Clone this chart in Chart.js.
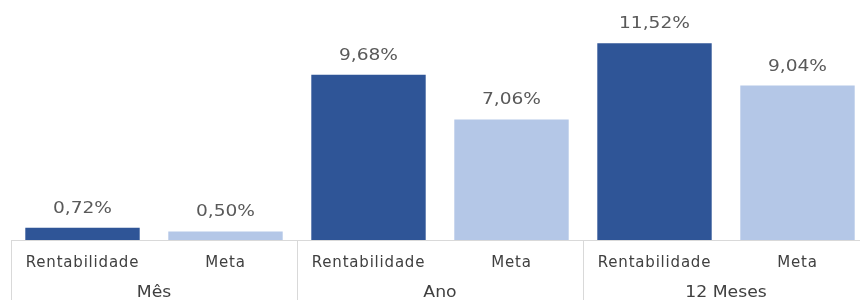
<!DOCTYPE html>
<html>
<head>
<meta charset="utf-8">
<script src="https://cdn.jsdelivr.net/npm/chart.js@4"></script>
<style>
  html, body { margin: 0; padding: 0; background: #ffffff; overflow: hidden; width: 860px; height: 300px; }
  canvas { display: block; }
</style>
</head>
<body>
<canvas id="c" width="870" height="300"></canvas>
<script>
const categories = ['Rentabilidade', 'Meta', 'Rentabilidade', 'Meta', 'Rentabilidade', 'Meta'];
const groups = ['Mês', 'Ano', '12 Meses'];
const values = [0.72, 0.50, 9.68, 7.06, 11.52, 9.04];
const valueLabels = ['0,72%', '0,50%', '9,68%', '7,06%', '11,52%', '9,04%'];

const DARK = '#2F5597';
const LIGHT = '#B4C7E7';
const FONT = '"DejaVu Sans", Verdana, sans-serif';

const spacingPlugin = {
  id: 'spacing',
  beforeDraw(chart) { chart.ctx.letterSpacing = '0.8px'; }
};

function stretchText(ctx, text, cx, cy, sx) {
  ctx.save();
  ctx.translate(cx, cy);
  ctx.scale(sx, 1);
  ctx.fillText(text, 0, 0);
  ctx.restore();
}

const labelsPlugin = {
  id: 'customLabels',
  afterDraw(chart) {
    const ctx = chart.ctx;
    const x = chart.scales.x;
    const area = chart.chartArea;
    const meta = chart.getDatasetMeta(0);
    ctx.save();
    // value labels
    ctx.letterSpacing = '0px';
    ctx.font = '15px ' + FONT;
    ctx.fillStyle = '#595959';
    ctx.textAlign = 'center';
    ctx.textBaseline = 'middle';
    meta.data.forEach((bar, i) => {
      stretchText(ctx, valueLabels[i], bar.x, bar.y - 19, 1.24);
    });
    // separators
    ctx.strokeStyle = '#d9d9d9';
    ctx.lineWidth = 1;
    const half = (x.getPixelForValue(1) - x.getPixelForValue(0)) / 2;
    const bounds = [];
    for (let g = 0; g <= groups.length; g++) {
      const idx = g * 2;
      bounds.push(Math.round(x.getPixelForValue(Math.min(idx, categories.length - 1)) + (idx >= categories.length ? half : -half)) + 0.5);
    }
    ctx.beginPath();
    ctx.moveTo(area.left, Math.round(area.bottom) + 0.5);
    ctx.lineTo(area.right, Math.round(area.bottom) + 0.5);
    bounds.forEach(b => {
      ctx.moveTo(b, Math.round(area.bottom));
      ctx.lineTo(b, chart.height);
    });
    ctx.stroke();
    // group labels
    ctx.fillStyle = '#404040';
    ctx.font = '15px ' + FONT;
    groups.forEach((g, i) => {
      const cx = (x.getPixelForValue(i * 2) + x.getPixelForValue(i * 2 + 1)) / 2;
      stretchText(ctx, g, cx, 293, 1.15);
    });
    ctx.restore();
  }
};

new Chart(document.getElementById('c'), {
  type: 'bar',
  data: {
    labels: categories,
    datasets: [{
      data: values,
      backgroundColor: values.map((v, i) => i % 2 === 0 ? DARK : LIGHT),
      borderWidth: 0,
      categoryPercentage: 1.0,
      barPercentage: 0.8
    }]
  },
  options: {
    responsive: false,
    animation: false,
    devicePixelRatio: 1,
    layout: { padding: { top: 18, left: 11, right: 1, bottom: 0 } },
    plugins: { legend: { display: false }, tooltip: { enabled: false } },
    scales: {
      x: {
        grid: { display: false, drawTicks: false },
        border: { display: false },
        ticks: { font: { family: FONT, size: 15 }, color: '#404040', padding: 14, maxRotation: 0, autoSkip: false },
        afterFit(scale) { scale.height = 60; }
      },
      y: { display: false, min: 0, max: 13 }
    }
  },
  plugins: [spacingPlugin, labelsPlugin]
});
</script>
</body>
</html>
